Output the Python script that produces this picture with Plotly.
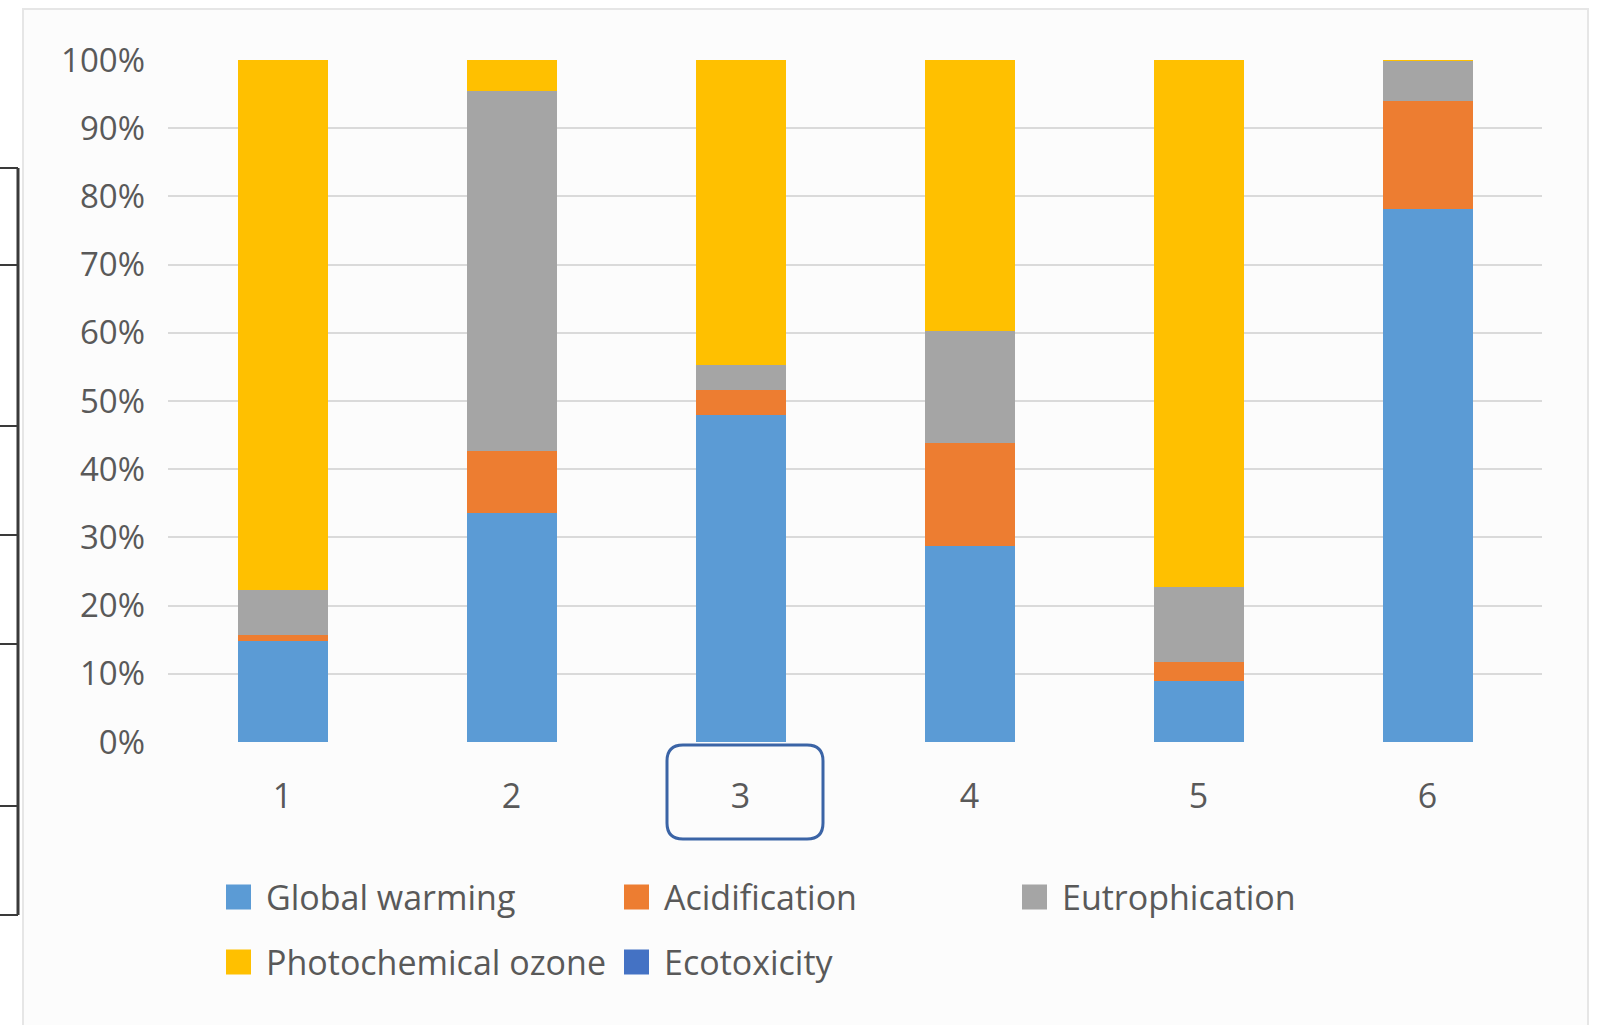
import plotly.graph_objects as go

# Stacked shares (%) of each impact category for the six cases
cases = ["1", "2", "3", "4", "5", "6"]
global_warming = [14.8, 33.6, 47.9, 28.7, 9.0, 78.1]
acidification = [0.9, 9.0, 3.7, 15.1, 2.8, 15.9]
eutrophication = [6.6, 52.8, 3.7, 16.5, 11.0, 5.9]
photochemical_ozone = [77.7, 4.6, 44.7, 39.7, 77.2, 0.1]
ecotoxicity = [0.0, 0.0, 0.0, 0.0, 0.0, 0.0]

series_names = ["Global warming", "Acidification", "Eutrophication",
                "Photochemical ozone", "Ecotoxicity"]
series_values = [global_warming, acidification, eutrophication,
                 photochemical_ozone, ecotoxicity]
series_colors = ["#5B9BD5", "#ED7D31", "#A5A5A5", "#FFC000", "#4472C4"]

y_ticks = [0, 10, 20, 30, 40, 50, 60, 70, 80, 90, 100]
y_tick_labels = ["0%", "10%", "20%", "30%", "40%", "50%",
                 "60%", "70%", "80%", "90%", "100%"]

W, H = 1599, 1025
ML, MR, MT, MB = 168, 57, 60, 283
PW, PH = W - ML - MR, H - MT - MB

def fx(px):
    return (px - ML) / PW

def fy(py):
    return (H - MB - py) / PH

FONT = "Open Sans"
TXT = "#595959"

fig = go.Figure()
for name, vals, col in zip(series_names, series_values, series_colors):
    fig.add_trace(go.Bar(x=cases, y=vals, name=name, marker_color=col,
                         marker_line_width=0, showlegend=False))

shapes = []
# outer chart area
shapes.append(dict(type="rect", xref="paper", yref="paper",
                   x0=fx(23), x1=fx(1588), y0=fy(1030), y1=fy(9),
                   fillcolor="#fcfcfc", line=dict(color="#e6e6e6", width=2),
                   layer="below"))
# bracket lines on the left edge
ys = [168, 265, 426, 535, 644, 806, 915]
shapes.append(dict(type="line", xref="paper", yref="paper",
                   x0=fx(18), x1=fx(18), y0=fy(ys[0]), y1=fy(ys[-1]),
                   line=dict(color="#3a3a3a", width=3)))
for yy in ys:
    shapes.append(dict(type="line", xref="paper", yref="paper",
                       x0=fx(-2), x1=fx(18), y0=fy(yy), y1=fy(yy),
                       line=dict(color="#3a3a3a", width=2)))

# rounded box around the third category label
x0, x1, y0, y1, r = 667, 823, 745, 839, 16
def P(px, py):
    return f"{fx(px):.5f},{fy(py):.5f}"
path = (f"M{P(x0 + r, y0)} L{P(x1 - r, y0)} Q{P(x1, y0)} {P(x1, y0 + r)} "
        f"L{P(x1, y1 - r)} Q{P(x1, y1)} {P(x1 - r, y1)} "
        f"L{P(x0 + r, y1)} Q{P(x0, y1)} {P(x0, y1 - r)} "
        f"L{P(x0, y0 + r)} Q{P(x0, y0)} {P(x0 + r, y0)} Z")
shapes.append(dict(type="path", xref="paper", yref="paper", path=path,
                   line=dict(color="#3B64A6", width=3)))

# legend: swatches and labels
leg_pos = [(226, 897), (624, 897), (1022, 897), (226, 962), (624, 962)]
annotations = []
for (lx, ly), name, col in zip(leg_pos, series_names, series_colors):
    shapes.append(dict(type="rect", xref="paper", yref="paper",
                       x0=fx(lx), x1=fx(lx + 25), y0=fy(ly + 12.5), y1=fy(ly - 12.5),
                       fillcolor=col, line=dict(width=0)))
    annotations.append(dict(xref="paper", yref="paper", x=fx(lx + 38), y=fy(ly),
                            xanchor="left", yanchor="middle", showarrow=False,
                            text=name, font=dict(family=FONT, size=34, color=TXT)))

fig.update_layout(
    width=W, height=H,
    margin=dict(l=ML, r=MR, t=MT, b=MB, pad=0),
    barmode="stack", bargap=0.607,
    paper_bgcolor="white", plot_bgcolor="rgba(0,0,0,0)",
    font=dict(family=FONT, size=34, color=TXT),
    shapes=shapes, annotations=annotations,
    xaxis=dict(type="category", categoryorder="array", categoryarray=cases,
               range=[-0.5, 5.5], showgrid=False, showline=False, zeroline=False,
               ticks="", ticklabelstandoff=31,
               tickfont=dict(family=FONT, size=34, color=TXT)),
    yaxis=dict(range=[0, 100], tickmode="array", tickvals=y_ticks,
               ticktext=y_tick_labels,
               showgrid=True, gridcolor="#dadada", gridwidth=2,
               showline=False, zeroline=False, ticks="", ticklabelstandoff=22,
               tickfont=dict(family=FONT, size=33, color=TXT)),
)

fig.write_html("out.html")
